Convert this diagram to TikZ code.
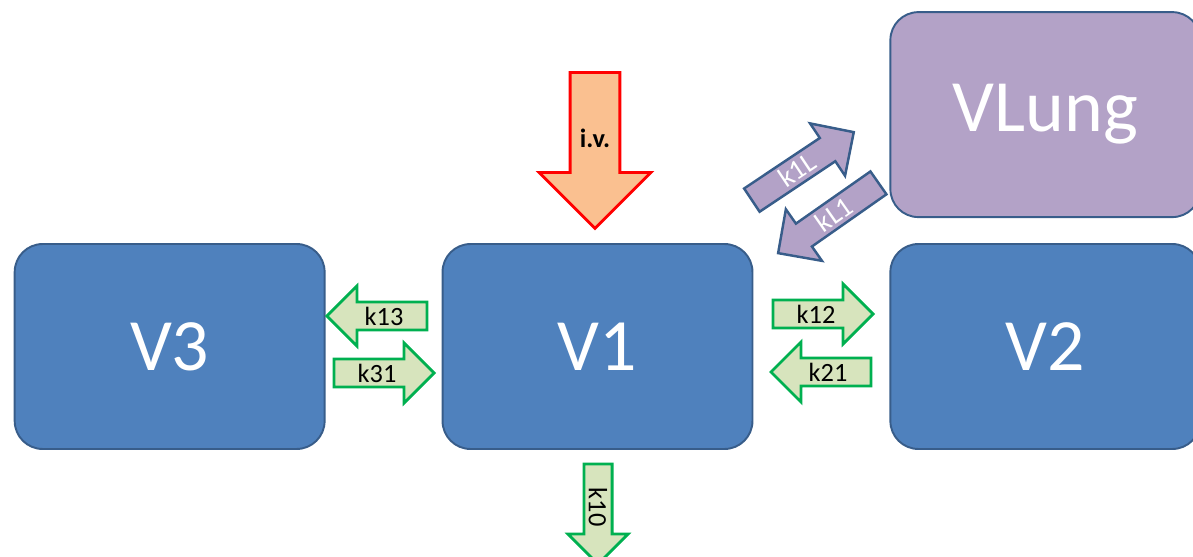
\documentclass[tikz,border=0pt]{standalone}
\usepackage{fontspec}
\setmainfont{Carlito}
\usetikzlibrary{shapes.arrows}
\usetikzlibrary{positioning}

\definecolor{boxblue}{HTML}{4F81BD}
\definecolor{boxline}{HTML}{385D8A}
\definecolor{lungfill}{HTML}{B3A2C7}
\definecolor{flowfill}{HTML}{D7E4BD}
\definecolor{flowline}{HTML}{00B050}
\definecolor{dosefill}{HTML}{FAC090}

\tikzset{
  compartment/.style={draw=boxline, line width=1.1pt, fill=boxblue, rounded corners=0.56cm,
    minimum width=6.2cm, minimum height=4.1cm, text=white, font=\fontsize{42}{48}\selectfont},
  flow/.style={single arrow, draw=flowline, line width=1.6pt, fill=flowfill, font=\fontsize{15}{17}\selectfont,
    minimum height=2cm, minimum width=1.2cm, single arrow head extend=0.28cm, inner sep=1pt},
  lungflow/.style={single arrow, draw=boxline, line width=1.4pt, fill=lungfill, text=white, font=\fontsize{16}{18}\selectfont,
    minimum height=2.45cm, minimum width=1.26cm, single arrow head extend=0.32cm, inner sep=1pt}
}

\begin{document}
\begin{tikzpicture}[x=0.02cm, y=-0.02cm]
\useasboundingbox (0,0) rectangle (1193,557);

% compartments
\node[compartment] (V1) at (597.5,346.5) {V1};
\node[compartment, left=2.32cm of V1] (V3) {V3};
\node[compartment, right=2.72cm of V1] (V2) {V2};
\node[compartment, fill=lungfill, above=0.5cm of V2] (VLung) {VLung};

% dose
\node[single arrow, draw=red, line width=1.6pt, fill=dosefill, rotate=-90, minimum height=3.12cm, minimum width=2.24cm,
  single arrow head extend=0.56cm, font=\bfseries\fontsize{15}{18}\selectfont] (iv) at (595,138) {\rotatebox{90}{i.v.}};

% transfer rates
\node[flow, shape border rotate=180] (k13) at (384,316) {k13};
\node[flow] (k31) at (377,373) {k31};
\node[flow] (k12) at (816,314) {k12};
\node[flow, shape border rotate=180] (k21) at (828,372) {k21};
\node[flow, rotate=-90] (k10) at (598,507) {k10};

% lung exchange
\node[lungflow, rotate=33.7] (k1L) at (797,170) {k1L};
\node[lungflow, rotate=35, shape border rotate=180] (kL1) at (834,214) {kL1};
\end{tikzpicture}
\end{document}
